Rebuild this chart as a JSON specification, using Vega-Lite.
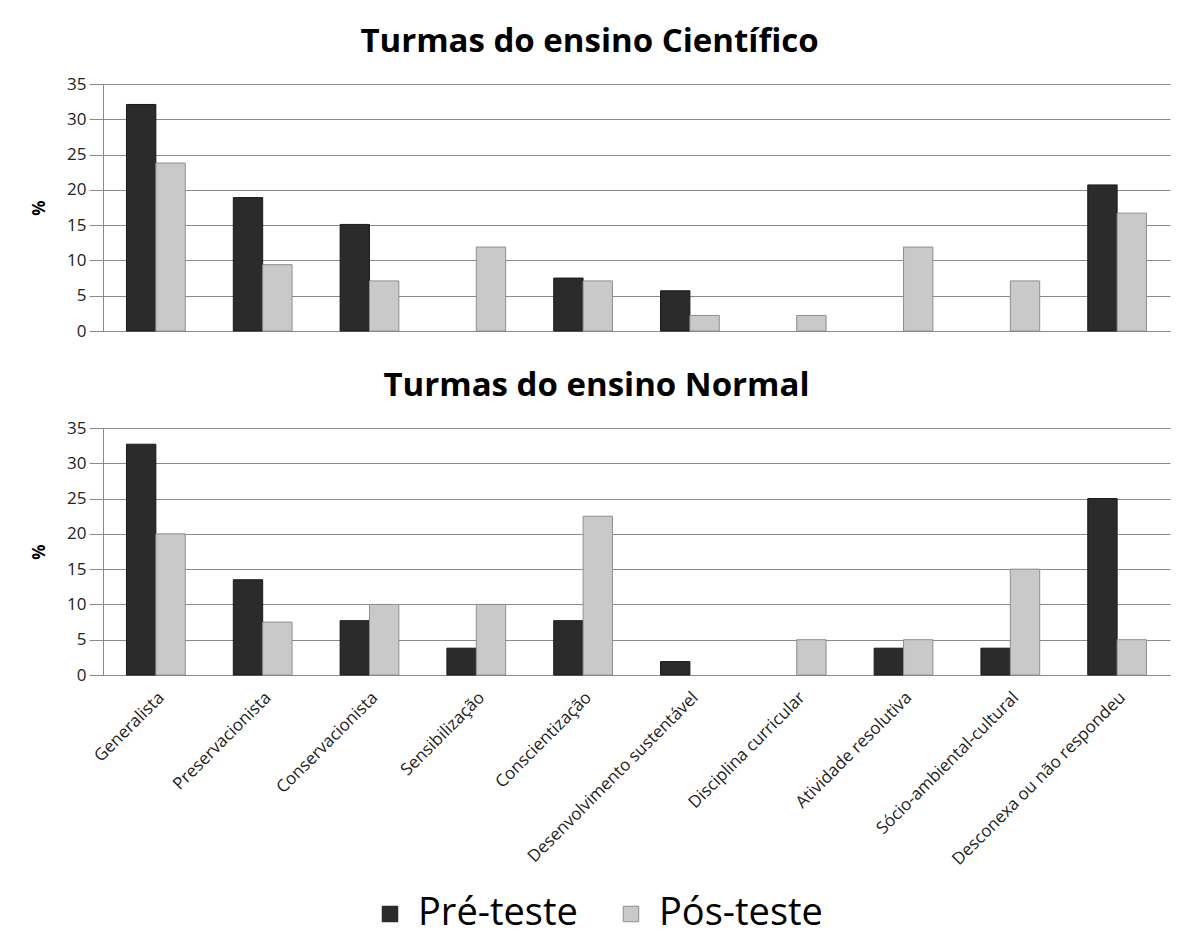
{
  "$schema": "https://vega.github.io/schema/vega-lite/v6.json",
  "background": "white",
  "padding": {"left": 30, "top": 26, "right": 13, "bottom": 5},
  "datasets": {
    "d": [
      {"painel": "Científico", "categoria": "Generalista", "teste": "Pré-teste", "valor": 32.1},
      {"painel": "Científico", "categoria": "Generalista", "teste": "Pós-teste", "valor": 23.8},
      {"painel": "Científico", "categoria": "Preservacionista", "teste": "Pré-teste", "valor": 18.9},
      {"painel": "Científico", "categoria": "Preservacionista", "teste": "Pós-teste", "valor": 9.4},
      {"painel": "Científico", "categoria": "Conservacionista", "teste": "Pré-teste", "valor": 15.1},
      {"painel": "Científico", "categoria": "Conservacionista", "teste": "Pós-teste", "valor": 7.1},
      {"painel": "Científico", "categoria": "Sensibilização", "teste": "Pré-teste", "valor": 0},
      {"painel": "Científico", "categoria": "Sensibilização", "teste": "Pós-teste", "valor": 11.9},
      {"painel": "Científico", "categoria": "Conscientização", "teste": "Pré-teste", "valor": 7.5},
      {"painel": "Científico", "categoria": "Conscientização", "teste": "Pós-teste", "valor": 7.1},
      {"painel": "Científico", "categoria": "Desenvolvimento sustentável", "teste": "Pré-teste", "valor": 5.7},
      {"painel": "Científico", "categoria": "Desenvolvimento sustentável", "teste": "Pós-teste", "valor": 2.2},
      {"painel": "Científico", "categoria": "Disciplina curricular", "teste": "Pré-teste", "valor": 0},
      {"painel": "Científico", "categoria": "Disciplina curricular", "teste": "Pós-teste", "valor": 2.2},
      {"painel": "Científico", "categoria": "Atividade resolutiva", "teste": "Pré-teste", "valor": 0},
      {"painel": "Científico", "categoria": "Atividade resolutiva", "teste": "Pós-teste", "valor": 11.9},
      {"painel": "Científico", "categoria": "Sócio-ambiental-cultural", "teste": "Pré-teste", "valor": 0},
      {"painel": "Científico", "categoria": "Sócio-ambiental-cultural", "teste": "Pós-teste", "valor": 7.1},
      {"painel": "Científico", "categoria": "Desconexa ou não respondeu", "teste": "Pré-teste", "valor": 20.7},
      {"painel": "Científico", "categoria": "Desconexa ou não respondeu", "teste": "Pós-teste", "valor": 16.7},
      {"painel": "Normal", "categoria": "Generalista", "teste": "Pré-teste", "valor": 32.7},
      {"painel": "Normal", "categoria": "Generalista", "teste": "Pós-teste", "valor": 20},
      {"painel": "Normal", "categoria": "Preservacionista", "teste": "Pré-teste", "valor": 13.5},
      {"painel": "Normal", "categoria": "Preservacionista", "teste": "Pós-teste", "valor": 7.5},
      {"painel": "Normal", "categoria": "Conservacionista", "teste": "Pré-teste", "valor": 7.7},
      {"painel": "Normal", "categoria": "Conservacionista", "teste": "Pós-teste", "valor": 10},
      {"painel": "Normal", "categoria": "Sensibilização", "teste": "Pré-teste", "valor": 3.8},
      {"painel": "Normal", "categoria": "Sensibilização", "teste": "Pós-teste", "valor": 10},
      {"painel": "Normal", "categoria": "Conscientização", "teste": "Pré-teste", "valor": 7.7},
      {"painel": "Normal", "categoria": "Conscientização", "teste": "Pós-teste", "valor": 22.5},
      {"painel": "Normal", "categoria": "Desenvolvimento sustentável", "teste": "Pré-teste", "valor": 1.9},
      {"painel": "Normal", "categoria": "Desenvolvimento sustentável", "teste": "Pós-teste", "valor": 0},
      {"painel": "Normal", "categoria": "Disciplina curricular", "teste": "Pré-teste", "valor": 0},
      {"painel": "Normal", "categoria": "Disciplina curricular", "teste": "Pós-teste", "valor": 5},
      {"painel": "Normal", "categoria": "Atividade resolutiva", "teste": "Pré-teste", "valor": 3.8},
      {"painel": "Normal", "categoria": "Atividade resolutiva", "teste": "Pós-teste", "valor": 5},
      {"painel": "Normal", "categoria": "Sócio-ambiental-cultural", "teste": "Pré-teste", "valor": 3.8},
      {"painel": "Normal", "categoria": "Sócio-ambiental-cultural", "teste": "Pós-teste", "valor": 15},
      {"painel": "Normal", "categoria": "Desconexa ou não respondeu", "teste": "Pré-teste", "valor": 25},
      {"painel": "Normal", "categoria": "Desconexa ou não respondeu", "teste": "Pós-teste", "valor": 5}
    ]
  },
  "data": {"name": "d"},
  "spacing": 31,
  "vconcat": [
    {
      "title": {"text": "Turmas do ensino Científico", "dx": -47},
      "width": 1067,
      "height": 247,
      "transform": [{"filter": "datum.painel === 'Científico' && datum.valor > 0"}],
      "mark": {"type": "bar", "strokeWidth": 1},
      "encoding": {
        "x": {
          "field": "categoria", "type": "nominal",
          "scale": {"domain": ["Generalista", "Preservacionista", "Conservacionista", "Sensibilização", "Conscientização", "Desenvolvimento sustentável", "Disciplina curricular", "Atividade resolutiva", "Sócio-ambiental-cultural", "Desconexa ou não respondeu"], "paddingInner": 0.45, "paddingOuter": 0.22},
          "axis": {"labels": false, "ticks": false, "title": null}
        },
        "xOffset": {"field": "teste", "type": "nominal", "scale": {"domain": ["Pré-teste", "Pós-teste"]}},
        "y": {"field": "valor", "type": "quantitative", "title": "%", "scale": {"domain": [0, 35]}, "axis": {"values": [0, 5, 10, 15, 20, 25, 30, 35]}},
        "color": {
          "field": "teste", "type": "nominal",
          "scale": {"domain": ["Pré-teste", "Pós-teste"], "range": ["#2b2b2b", "#c9c9c9"]},
          "legend": {"title": null, "orient": "none", "legendX": 268, "legendY": 811}
        },
        "stroke": {
          "field": "teste", "type": "nominal",
          "scale": {"domain": ["Pré-teste", "Pós-teste"], "range": ["#1a1a1a", "#8f8f8f"]},
          "legend": null
        }
      }
    },
    {
      "title": {"text": "Turmas do ensino Normal", "dx": -40},
      "width": 1067,
      "height": 247,
      "transform": [{"filter": "datum.painel === 'Normal' && datum.valor > 0"}],
      "mark": {"type": "bar", "strokeWidth": 1},
      "encoding": {
        "x": {
          "field": "categoria", "type": "nominal",
          "scale": {"domain": ["Generalista", "Preservacionista", "Conservacionista", "Sensibilização", "Conscientização", "Desenvolvimento sustentável", "Disciplina curricular", "Atividade resolutiva", "Sócio-ambiental-cultural", "Desconexa ou não respondeu"], "paddingInner": 0.45, "paddingOuter": 0.22},
          "axis": {"labelAngle": -45, "ticks": false, "title": null, "labelFontSize": 17, "labelPadding": 14, "labelLimit": 0}
        },
        "xOffset": {"field": "teste", "type": "nominal", "scale": {"domain": ["Pré-teste", "Pós-teste"]}},
        "y": {"field": "valor", "type": "quantitative", "title": "%", "scale": {"domain": [0, 35]}, "axis": {"values": [0, 5, 10, 15, 20, 25, 30, 35]}},
        "color": {
          "field": "teste", "type": "nominal",
          "scale": {"domain": ["Pré-teste", "Pós-teste"], "range": ["#2b2b2b", "#c9c9c9"]},
          "legend": {"title": null, "orient": "none", "legendX": 268, "legendY": 811}
        },
        "stroke": {
          "field": "teste", "type": "nominal",
          "scale": {"domain": ["Pré-teste", "Pós-teste"], "range": ["#1a1a1a", "#8f8f8f"]},
          "legend": null
        }
      }
    }
  ],
  "config": {
    "font": "Open Sans",
    "view": {"stroke": null},
    "title": {"fontSize": 33, "fontWeight": "bold", "font": "Open Sans", "color": "#000", "offset": 16, "anchor": "middle"},
    "axis": {
      "labelFont": "Open Sans", "labelFontSize": 17, "labelColor": "#222",
      "domainColor": "#8a8a8a", "tickColor": "#8a8a8a", "gridColor": "#8a8a8a",
      "titleFont": "Open Sans", "titleFontSize": 17, "titleFontWeight": "bold", "titleColor": "#000"
    },
    "axisY": {"grid": true, "domain": true, "tickSize": 14, "labelPadding": 3, "titlePadding": 18},
    "axisX": {"grid": false, "domain": true},
    "legend": {
      "direction": "horizontal", "labelFontSize": 38, "labelFont": "Open Sans", "labelColor": "#000", "labelLimit": 0,
      "symbolType": "square", "symbolSize": 240, "symbolStrokeWidth": 1, "columnPadding": 34, "labelOffset": 9
    }
  }
}
